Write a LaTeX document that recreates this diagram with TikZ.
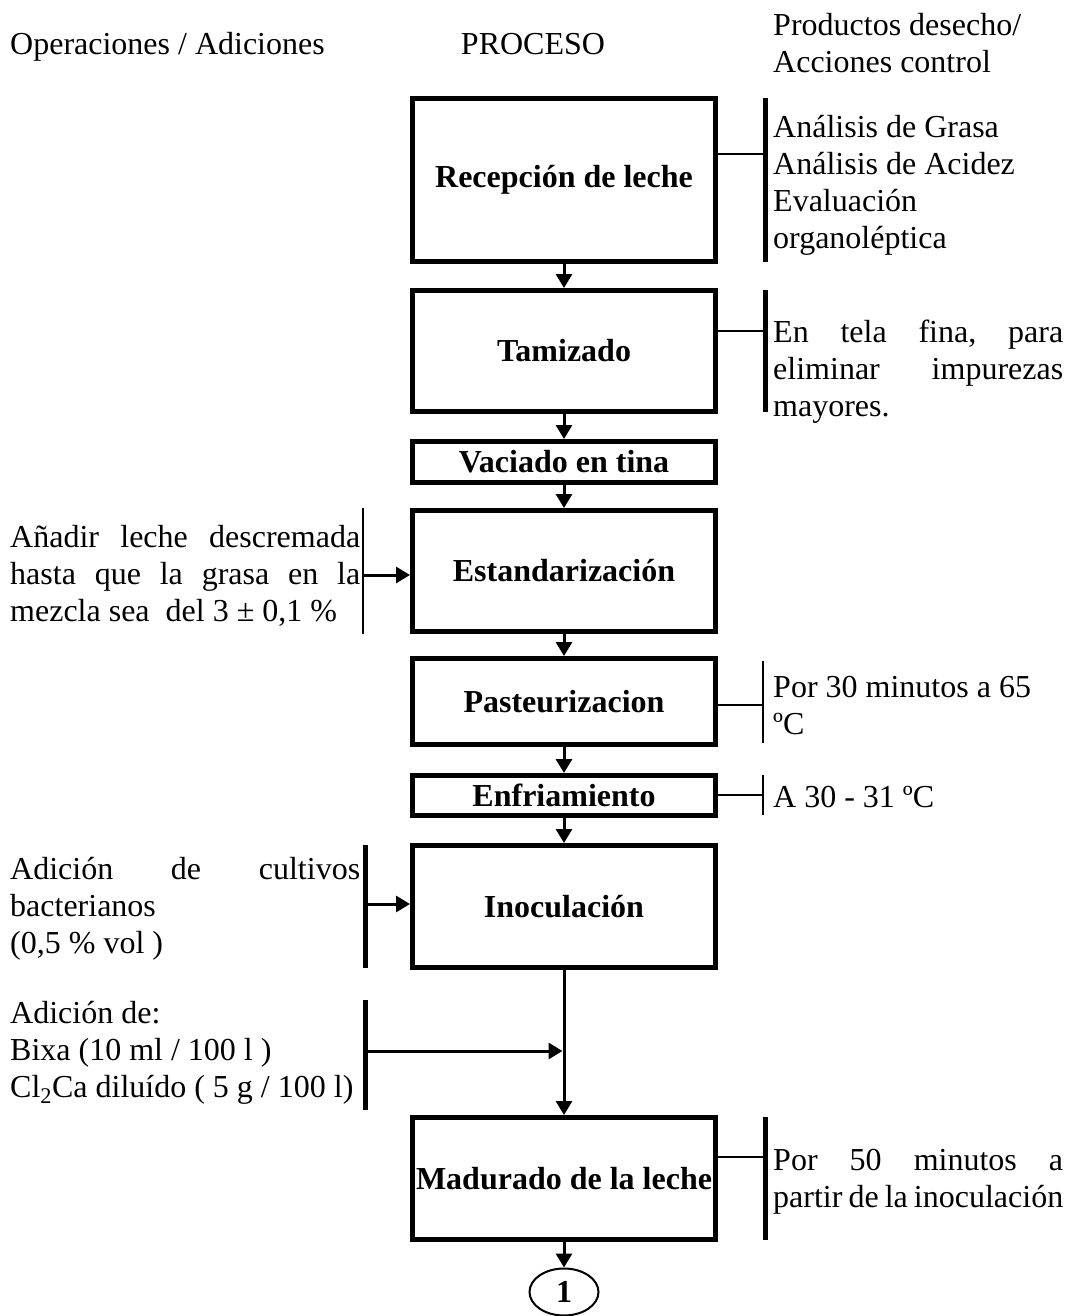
\documentclass[tikz,border=0pt]{standalone}
\usepackage{fontspec}
\setmainfont{Liberation Serif}
\usetikzlibrary{arrows.meta,shapes.geometric}
% a line of the given width whose words are spread by \hfill
\newcommand{\spreadline}[2]{\leavevmode\hbox to #1{#2}}

\begin{document}
\begin{tikzpicture}[x=1pt,y=-1pt,
  every node/.style={inner sep=0pt, font=\fontsize{32}{37}\selectfont,
    execute at begin node={\spaceskip=0pt\xspaceskip=0pt}},
  stepbox/.style={draw, line width=5pt, minimum width=303pt,
    font=\fontsize{32}{37}\selectfont\bfseries, align=center},
  flow/.style={line width=3pt, -{Triangle[length=14pt,width=16pt]}},
  link/.style={line width=2pt},
  heavybar/.style={line width=5pt},
  lightbar/.style={line width=2.5pt},
  note/.style={anchor=base west, text width=292pt, align=flush left},
  addnote/.style={anchor=base west, text width=380pt, align=flush left}]

\useasboundingbox (0,0) rectangle (1069,1316);

% column headings
\node[anchor=base west] (hdrleft) at (10,55) {Operaciones / Adiciones};
\node[anchor=base] (hdrmid) at (533,55) {PROCESO};
\node[note] (hdrright) at (773,36) {Productos desecho/\\Acciones control};

% process steps
\node[stepbox, minimum height=163pt] (recep)   at (564,180)    {Recepción de leche};
\node[stepbox, minimum height=121pt] (tamiz)   at (564,351)    {Tamizado};
\node[stepbox, minimum height=41pt]  (vaciado) at (564,462)    {Vaciado en tina};
\node[stepbox, minimum height=121pt] (estand)  at (564,571)    {Estandarización};
\node[stepbox, minimum height=86pt]  (pasteur) at (564,701.5)  {Pasteurizacion};
\node[stepbox, minimum height=40pt]  (enfri)   at (564,795.5)  {Enfriamiento};
\node[stepbox, minimum height=122pt] (inoc)    at (564,906.5)  {Inoculación};
\node[stepbox, minimum height=122pt] (madur)   at (564,1178.5) {Madurado de la leche};
\node[draw, ellipse, line width=2pt, minimum width=69pt, minimum height=47pt,
      font=\fontsize{32}{37}\selectfont\bfseries] (conn) at (564,1292) {1};

% main flow
\draw[flow] (recep.south)   -- (tamiz.north);
\draw[flow] (tamiz.south)   -- (vaciado.north);
\draw[flow] (vaciado.south) -- (estand.north);
\draw[flow] (estand.south)  -- (pasteur.north);
\draw[flow] (pasteur.south) -- (enfri.north);
\draw[flow] (enfri.south)   -- (inoc.north);
\draw[flow] (inoc.south)    -- (madur.north);
\draw[flow] (madur.south)   -- (conn.north);

% controls on the right
\coordinate (recepbar) at (765,154);
\draw[heavybar] (765,98) -- (765,262);
\draw[link] (recepbar -| recep.east) -- (recepbar);
\node[note] (recepnote) at (773,138)
  {Análisis de Grasa\\Análisis de Acidez\\Evaluación\\organoléptica};

\coordinate (tamizbar) at (765,331);
\draw[heavybar] (765,290) -- (765,412);
\draw[link] (tamizbar -| tamiz.east) -- (tamizbar);
\node[note] (tamiznote) at (773,342)
  {\spreadline{290pt}{En\hfill tela\hfill fina,\hfill para}\\
   \spreadline{290pt}{eliminar\hfill impurezas}\\mayores.};

\coordinate (pasteurbar) at (763,705);
\draw[lightbar] (763,661) -- (763,743);
\draw[link] (pasteurbar -| pasteur.east) -- (pasteurbar);
\node[note] (pasteurnote) at (773,697) {Por 30 minutos a 65\\ºC};

\coordinate (enfribar) at (763,795);
\draw[lightbar] (763,775) -- (763,815);
\draw[link] (enfribar -| enfri.east) -- (enfribar);
\node[note] (enfrinote) at (773,807) {A 30 - 31 ºC};

\coordinate (madurbar) at (765,1157);
\draw[heavybar] (765,1117) -- (765,1240);
\draw[link] (madurbar -| madur.east) -- (madurbar);
\node[note] (madurnote) at (773,1170)
  {\spreadline{290pt}{Por\hfill 50\hfill minutos\hfill a}\\
   \spreadline{290pt}{partir\hfill de\hfill la\hfill inoculación}};

% additions on the left
\coordinate (estandbar) at (363,575);
\draw[lightbar] (363,508) -- (363,634);
\draw[flow] (estandbar) -- (estandbar -| estand.west);
\node[addnote] (estandnote) at (10,547)
  {\spreadline{350pt}{Añadir\hfill leche\hfill descremada}\\
   \spreadline{350pt}{hasta\hfill que\hfill la\hfill grasa\hfill en\hfill la}\\
   mezcla sea\ \ del 3 ± 0,1 \%};

\coordinate (inocbar) at (365,904);
\draw[heavybar] (365,845) -- (365,968);
\draw[flow] (inocbar) -- (inocbar -| inoc.west);
\node[addnote] (inocnote) at (10,879)
  {\spreadline{350pt}{Adición\hfill de\hfill cultivos}\\bacterianos\\(0,5 \% vol )};

\coordinate (bixabar) at (365,1051);
\coordinate (bixajoin) at (bixabar -| inoc.south);
\draw[heavybar] (365,1000) -- (365,1110);
\draw[flow, shorten >=1.5pt] (bixabar) -- (bixajoin);
\node[addnote] (bixanote) at (10,1023)
  {Adición de:\\Bixa (10 ml / 100 l )\\Cl\textsubscript{2}Ca diluído ( 5 g / 100 l)};

\end{tikzpicture}
\end{document}
